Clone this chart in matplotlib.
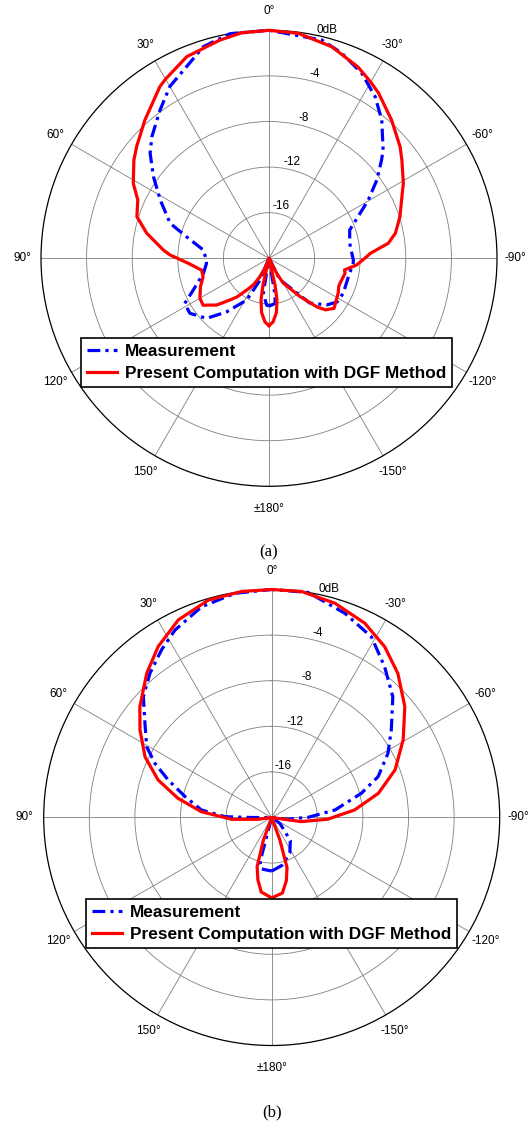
import numpy as np
import matplotlib
matplotlib.use("Agg")
import matplotlib.pyplot as plt

# ---------------- data (angle in degrees, level in dB) ----------------
# Panel (a)
a_meas_theta = [-180, -172.4, -170.7, -166, -160, -153, -137.7, -129, -122.7, -115.2,
                -103, -93.4, -91.2, -79.5, -70.7, -65, -59.6, -54, -48.9, -46.5,
                -39.2, -33.3, -26.6, -19.5, -13.6, 0, 9.8, 17.2, 30, 36.3,
                44, 48.6, 54.8, 61.9, 70.5, 75.3, 82.8, 91.6, 94.6, 102.9,
                112.7, 118.2, 124.8, 133.9, 141.6, 151.9, 157.5, 161, 166, 170.7,
                177, 180]
a_meas_db = [-15.8, -16.0, -16.7, -20, -20, -17.9, -14.7, -13.5, -12.9, -12.8,
             -12.85, -12.6, -12.6, -12.8, -12.5, -11.4, -9.9, -8.3, -6.9, -6.2,
             -4.35, -3.04, -1.84, -0.9, -0.3, 0, 0, -0.56, -2.6, -3.86,
             -5.2, -6.1, -7.6, -9.2, -10.8, -12.5, -14.2, -14.5, -14.5, -14.1,
             -12.8, -11.6, -11.55, -12.4, -14.0, -15.85, -17.9, -20, -20, -16.9,
             -15.9, -15.8]

a_dgf_theta = [-180, -176.4, -172.2, -169.1, -167.3, -164, -156, -152.8, -150.2, -141,
               -135.4, -132.4, -127.6, -116.8, -112.1, -109.4, -101.2, -98.8, -94.4, -90,
               -87.2, -82.8, -78.8, -72.4, -66.3, -60.8, -53.5, -49.6, -41.6, -33.5,
               -30, -25, -16.5, -7.4, 0, 7, 12.7, 22.2, 30, 32.4,
               41.9, 49.8, 54, 61.1, 66, 72.5, 78.4, 85.5, 88, 93.5,
               100, 105.6, 112.4, 120, 125.4, 131.8, 136.9, 140.4, 144.9, 149.5,
               154, 158, 161, 164, 167.3, 169.1, 172.2, 176.4, 180]
a_dgf_db = [-14.1, -14.4, -15.2, -16.3, -17.6, -20, -20, -18.5, -17.5, -15.7,
            -14.0, -13.3, -12.8, -13.2, -13.4, -13.4, -13.2, -13.3, -12.3, -11.6,
            -11.1, -9.45, -8.7, -7.95, -7.3, -6.5, -5.5, -4.9, -3.8, -2.6,
            -2.15, -1.5, -0.64, -0.1, 0, -0.08, -0.38, -0.9, -1.85, -2.15,
            -3.7, -4.8, -5.35, -6.4, -7.4, -7.85, -9.05, -10.7, -11.3, -12.9,
            -14.0, -14.0, -13.5, -13.0, -12.9, -13.85, -15.0, -15.6, -16.6, -17.3,
            -18.2, -19.0, -20, -20, -17.6, -16.3, -15.2, -14.4, -14.1]

# Panel (b)
b_meas_theta = [-180, -168, -153, -141, -126, -115, -100, -96, -89.7, -83.2,
                -74.9, -69, -61.1, -53.8, -45.1, -36.8, -28.9, -19.7, -9.2, 0,
                9.3, 18.4, 27.3, 33.3, 40.2, 46.7, 53.4, 60.5, 65.1, 70.1,
                76.5, 83.9, 89, 90, 92, 160, 165.2, 168.9, 180]
b_meas_db = [-15.3, -15.7, -16.5, -17.4, -19.1, -20, -20, -18.6, -16.8, -14.4,
             -11.86, -10.0, -8.35, -7.0, -5.0, -3.47, -1.9, -0.97, 0, 0,
             -0.07, -0.52, -1.5, -2.4, -3.45, -4.53, -6.15, -7.4, -8.7, -10.35,
             -12.2, -13.8, -15.9, -18.2, -20, -20, -16.0, -15.4, -15.3]

b_dgf_theta = [-180, -172, -167, -163, -160, -157, -100, -98, -91.8, -84.8,
               -77.2, -68.9, -59.4, -50.2, -41.2, -33.5, -25.6, -16.4, -7.5, 0,
               7.5, 16.2, 25.3, 33.6, 40.9, 50, 56.4, 64.4, 71.7, 78.4,
               85.3, 92.6, 97.7, 100, 157, 159.8, 163.5, 167.5, 172, 180]
b_dgf_db = [-12.95, -13.3, -14.3, -15.4, -17.9, -20, -20, -17.4, -15.1, -12.7,
            -10.4, -8.4, -6.6, -4.8, -3.2, -2.04, -1.1, -0.4, 0, 0,
            0, -0.13, -0.83, -2.0, -3.26, -4.9, -6.13, -7.68, -9.5, -11.6,
            -13.8, -16.5, -18.8, -20, -20, -17.9, -15.5, -14.4, -13.4, -12.95]

ring_levels = [-16, -12, -8, -4, 0]
ring_labels = ["-16", "-12", "-8", "-4", "0dB"]
angle_ticks = [0, 30, 60, 90, 120, 150, 180, -150, -120, -90, -60, -30]
angle_labels = ["0°", "30°", "60°", "90°", "120°", "150°", "±180°",
                "-150°", "-120°", "-90°", "-60°", "-30°"]
legend_labels = ["Measurement", "Present Computation with DGF Method"]
captions = ["(a)", "(b)"]

# ---------------- figure ----------------
W, H = 528, 1122
fig = plt.figure(figsize=(W / 100, H / 100), dpi=100)
plt.rcParams["font.family"] = ["Liberation Sans", "DejaVu Sans"]

R = 228.0
centers = [(269.0, 258.3), (271.7, 817.5)]
legend_anchor = [(81 / W, 1 - 338 / H), (86 / W, 1 - 899 / H)]
caption_y = [552, 1112]

panels = [(a_meas_theta, a_meas_db, a_dgf_theta, a_dgf_db),
          (b_meas_theta, b_meas_db, b_dgf_theta, b_dgf_db)]

for i, (mt, md, dt, dd) in enumerate(panels):
    cx, cy = centers[i]
    ax = fig.add_axes([(cx - R) / W, 1 - (cy + R) / H, 2 * R / W, 2 * R / H],
                      projection="polar")
    ax.set_theta_zero_location("N")
    ax.set_theta_direction(1)

    lm, = ax.plot(np.deg2rad(mt), md, color="#0000ff", linewidth=2.3,
                  linestyle=(0, (4, 1.6, 1, 1.6)), clip_on=False, zorder=3,
                  dash_joinstyle="round", dash_capstyle="butt")
    ld, = ax.plot(np.deg2rad(dt), dd, color="#ff0000", linewidth=2.3,
                  clip_on=False, zorder=4, solid_joinstyle="round")

    ax.set_xticks(np.deg2rad(np.mod(angle_ticks, 360)))
    ax.set_xticklabels([])
    ax.set_thetalim(0, 2 * np.pi)
    ax.set_rlim(-20, 0)
    ax.set_rticks([-16, -12, -8, -4])
    ax.set_yticklabels([])
    ax.tick_params(axis="x", direction="in", length=3, width=0.6, color="black")
    ax.grid(True, color="#7f7f7f", linewidth=0.6)
    ax.spines["polar"].set_color("black")
    ax.spines["polar"].set_linewidth(0.9)

    for lev, lab in zip(ring_levels, ring_labels):
        ax.text(np.deg2rad(-14.5), lev + 0.15, lab, fontsize=8.5,
                ha="center", va="bottom", color="black", zorder=5)

    for ang, lab in zip(angle_ticks, angle_labels):
        rr = 1.65 if ang != 180 else 2.0
        ax.text(np.deg2rad(ang), rr, lab, fontsize=8.5, ha="center",
                va="center", clip_on=False)

    leg = fig.legend([lm, ld], legend_labels, loc="upper left",
                     bbox_to_anchor=legend_anchor[i], borderaxespad=0,
                     prop={"weight": "bold", "size": 12.4},
                     frameon=True, fancybox=False, framealpha=1,
                     edgecolor="black", handlelength=1.75, handletextpad=0.45,
                     borderpad=0.35, labelspacing=0.38)
    leg.get_frame().set_linewidth(1.2)

    fig.text(cx / W, 1 - caption_y[i] / H, captions[i], ha="center",
             va="center", fontsize=12, family="Liberation Serif")

fig.savefig("out.png", dpi=100)
